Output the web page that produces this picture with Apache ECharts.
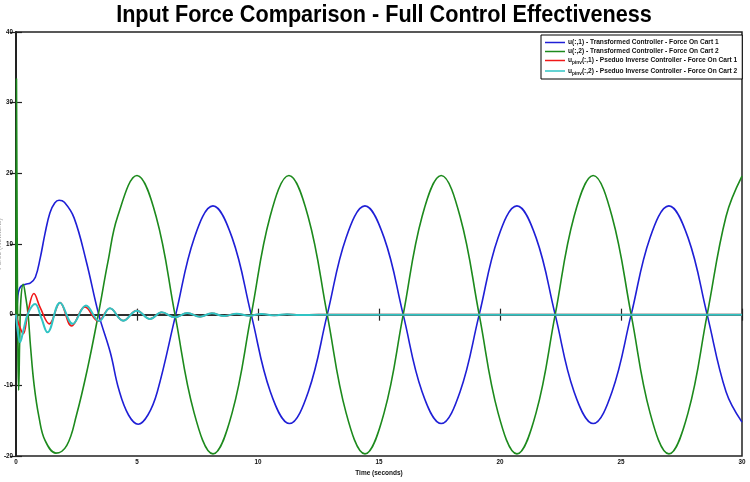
<!DOCTYPE html>
<html>
<head>
<meta charset="utf-8">
<script src="https://cdn.jsdelivr.net/npm/echarts@6.0.0/dist/echarts.min.js"></script>
<style>
  html, body { margin: 0; padding: 0; background: #fff; }
  #chart { width: 750px; height: 482px; }
</style>
</head>
<body>
<div id="chart"></div>
<script>
// values, [time (s), force]
const u1 = [
  [0, -0.5], [0.05, 1.5], [0.1, 3.2], [0.2, 4.0], [0.4, 4.3], [0.6, 4.5], [0.8, 5.3],
  [1.0, 8.0], [1.2, 11.5], [1.4, 14.4], [1.6, 15.8], [1.78, 16.2], [2.0, 15.9], [2.4, 13.7],
  [2.9, 7.6], [3.42, 0], [3.9, -5.4], [4.25, -10.6], [4.65, -14.2], [5.05, -15.5], [5.45, -14.2],
  [5.84, -10.9], [6.6, 0], [7.37, 10.9], [8.14, 15.4], [8.93, 10.9], [9.72, 0], [10.51, -10.9],
  [11.3, -15.4], [12.08, -10.9], [12.86, 0], [13.64, 10.9], [14.42, 15.4], [15.21, 10.9],
  [16.0, 0], [16.78, -10.9], [17.57, -15.4], [18.35, -10.9], [19.14, 0], [19.92, 10.9],
  [20.7, 15.4], [21.49, 10.9], [22.28, 0], [23.06, -10.9], [23.85, -15.4], [24.63, -10.9],
  [25.42, 0], [26.2, 10.9], [26.98, 15.4], [27.77, 10.9], [28.56, 0], [29.34, -10.9], [30, -15.2]
];
const u2 = [
  [0, 0], [0.02, 33.4], [0.05, 10], [0.08, -6], [0.11, -10.7], [0.15, -4], [0.2, 2],
  [0.3, 4.3], [0.4, 2.5], [0.5, 0], [0.6, -4.5], [0.75, -10], [0.95, -14.5], [1.2, -17.8],
  [1.65, -19.6], [2.1, -18.5], [2.5, -14.2], [2.95, -7.7], [3.4, 0], [3.8, 7.5], [4.2, 13.9],
  [5.0, 19.7], [5.79, 13.9], [6.57, 0], [7.36, -13.9], [8.14, -19.7], [8.93, -13.9], [9.72, 0],
  [10.5, 13.9], [11.28, 19.7], [12.07, 13.9], [12.86, 0], [13.64, -13.9], [14.42, -19.7],
  [15.21, -13.9], [16.0, 0], [16.78, 13.9], [17.57, 19.7], [18.35, 13.9], [19.14, 0],
  [19.92, -13.9], [20.7, -19.7], [21.49, -13.9], [22.28, 0], [23.06, 13.9], [23.85, 19.7],
  [24.63, 13.9], [25.42, 0], [26.2, -13.9], [26.98, -19.7], [27.77, -13.9], [28.56, 0],
  [29.34, 13.9], [30, 19.6]
];
const upinv1 = [
  [0, 0], [0.1, -1.2], [0.3, -2.7], [0.5, 0.5], [0.74, 3.0], [1.0, 1.0], [1.38, -1.3],
  [1.82, 1.7], [2.3, -1.6], [2.85, 1.1], [3.4, -0.9], [3.88, 0.9], [4.43, -0.85], [4.99, 0.57],
  [5.54, -0.6], [6.02, 0.33], [6.57, -0.38], [7.08, 0.24], [7.6, -0.28], [8.09, 0.19],
  [8.6, -0.2], [9.12, 0.14], [9.64, -0.15], [10.15, 0.1], [10.67, -0.1], [11.2, 0.06],
  [11.7, -0.06], [12.5, 0], [30, 0]
];
const upinv2 = [
  [0, 0], [0.08, -2.5], [0.17, -3.9], [0.3, -2.3], [0.5, 0.2], [0.79, 1.5], [1.05, -0.5],
  [1.3, -2.5], [1.82, 1.7], [2.34, -1.3], [2.89, 1.3], [3.44, -0.9], [3.88, 0.9], [4.43, -0.85],
  [4.99, 0.57], [5.54, -0.6], [6.02, 0.33], [6.57, -0.38], [7.08, 0.24], [7.6, -0.28],
  [8.09, 0.19], [8.6, -0.2], [9.12, 0.14], [9.64, -0.15], [10.15, 0.1], [10.67, -0.1],
  [11.2, 0.06], [11.7, -0.06], [12.5, 0], [30, 0]
];
const names = [
  'u(:,1) - Transformed Controller - Force On Cart 1',
  'u(:,2) - Transformed Controller - Force On Cart 2',
  'u_{pinv}(:,1) - Pseduo Inverse Controller - Force On Cart 1',
  'u_{pinv}(:,2) - Pseduo Inverse Controller - Force On Cart 2'
];
const colors = ['#1f1fd6', '#1d8a1d', '#f01818', '#30c4c4'];

const chart = echarts.init(document.getElementById('chart'));
const axisTick = { inside: true, length: 6, lineStyle: { color: '#222', width: 1.2 } };
const tickLabel = { fontSize: 6.3, fontWeight: 'bold', color: '#111', fontFamily: 'Liberation Sans' };

function line (i, data, width) {
  return {
    name: names[i],
    type: 'line',
    data: data,
    smooth: 0.4,
    showSymbol: false,
    symbol: 'none',
    lineStyle: { color: colors[i], width: width },
    itemStyle: { color: colors[i] },
    animation: false
  };
}

chart.setOption({
  backgroundColor: '#fff',
  graphic: [{
    type: 'text',
    x: 384,
    y: 16,
    scaleX: 0.94,
    style: {
      text: 'Input Force Comparison - Full Control Effectiveness',
      font: 'bold 23px "Liberation Sans", Arial, sans-serif',
      fill: '#000',
      textAlign: 'center',
      textVerticalAlign: 'middle'
    }
  }],
  grid: {
    left: 16, right: 8, top: 32, bottom: 26,
    outerBoundsMode: 'none',
    containLabel: false,
    show: true, borderColor: '#222', borderWidth: 1.5
  },
  legend: {
    orient: 'vertical',
    left: 541,
    top: 35,
    padding: [4, 5, 3, 4],
    itemGap: 2,
    itemWidth: 20,
    itemHeight: 1.5,
    icon: 'rect',
    borderColor: '#000',
    borderWidth: 1,
    borderRadius: 0,
    backgroundColor: '#fff',
    data: names,
    formatter: n => n.replace('_{pinv}', '{s|pinv}'),
    textStyle: {
      fontSize: 6.6,
      fontWeight: 'bold',
      color: '#111',
      fontFamily: 'Liberation Sans',
      padding: [0, 0, 0, -2],
      rich: {
        s: { fontSize: 4.8, fontWeight: 'bold', color: '#111', fontFamily: 'Liberation Sans', padding: [5, 0, 0, 0] }
      }
    }
  },
  xAxis: [{
    type: 'value',
    min: 0,
    max: 30,
    interval: 5,
    name: 'Time (seconds)',
    nameLocation: 'middle',
    nameGap: 14,
    nameTextStyle: { fontSize: 6.5, fontWeight: 'bold', color: '#111', fontFamily: 'Liberation Sans' },
    axisLine: { show: true, lineStyle: { color: '#222', width: 1.5 } },
    axisTick: axisTick,
    axisLabel: Object.assign({ margin: 3 }, tickLabel),
    splitLine: { show: false }
  }, {
    type: 'value',
    position: 'top',
    min: 0,
    max: 30,
    interval: 5,
    axisLine: { show: true, lineStyle: { color: '#222', width: 1.5 } },
    axisTick: axisTick,
    axisLabel: { show: false },
    splitLine: { show: false }
  }],
  yAxis: [{
    type: 'value',
    min: -20,
    max: 40,
    interval: 10,
    name: 'Force (Newtons)',
    nameLocation: 'middle',
    nameGap: 13,
    nameMoveOverlap: false,
    nameTextStyle: { fontSize: 7, color: '#999', fontFamily: 'Liberation Sans' },
    axisLine: { show: true, lineStyle: { color: '#222', width: 1.8 } },
    axisTick: axisTick,
    axisLabel: Object.assign({ margin: 3 }, tickLabel),
    splitLine: { show: false }
  }, {
    type: 'value',
    position: 'right',
    min: -20,
    max: 40,
    interval: 10,
    axisLine: { show: true, lineStyle: { color: '#222', width: 1.5 } },
    axisTick: axisTick,
    axisLabel: { show: false },
    splitLine: { show: false }
  }],
  series: [
    line(0, u1, 1.6),
    line(1, u2, 1.6),
    line(2, upinv1, 1.6),
    line(3, upinv2, 2)
  ]
});
</script>
</body>
</html>
